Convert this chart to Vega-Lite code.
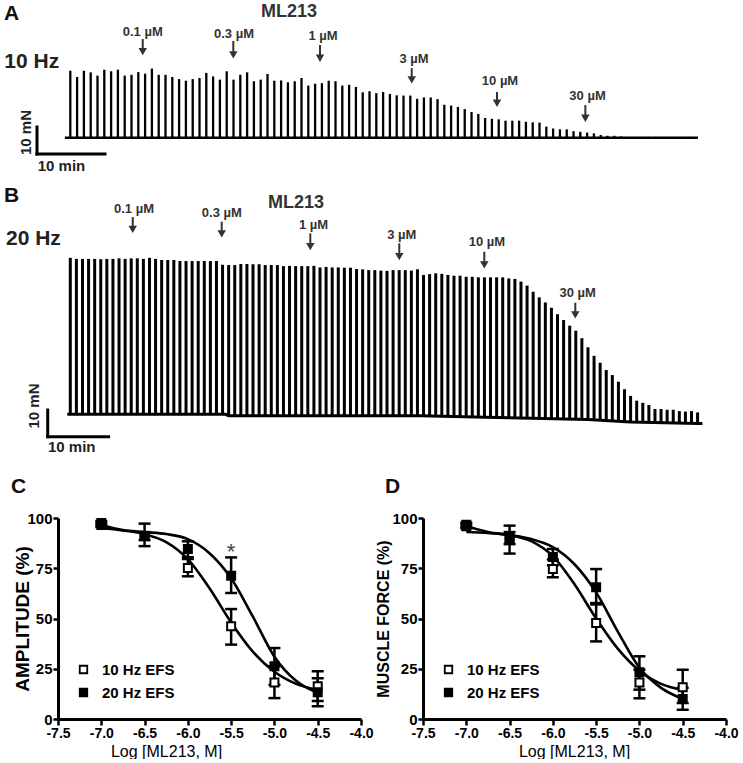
{
"$schema": "https://vega.github.io/schema/vega-lite/v6.json",
"padding": {"left": 3, "top": 0, "right": 0, "bottom": 0},
"background": "white",
"spacing": 0,
"config": {"view": {"stroke": null}, "font": "Liberation Sans", "axis": {"grid": false}},
"datasets": {
"spikesA": [
{"t":0,"v":24.8},{"t":1,"v":22.5},{"t":2,"v":24.8},{"t":3,"v":24.2},{"t":4,"v":23.0},{"t":5,"v":25.2},{"t":6,"v":24.6},{"t":7,"v":25.2},{"t":8,"v":23.0},{"t":9,"v":23.3},
{"t":10,"v":24.3},{"t":11,"v":23.7},{"t":12,"v":25.6},{"t":13,"v":23.3},{"t":14,"v":23.3},{"t":15,"v":22.5},{"t":16,"v":21.7},{"t":17,"v":21.1},{"t":18,"v":21.7},{"t":19,"v":22.1},
{"t":20,"v":24.0},{"t":21,"v":22.7},{"t":22,"v":21.5},{"t":23,"v":24.6},{"t":24,"v":21.5},{"t":25,"v":23.3},{"t":26,"v":24.2},{"t":27,"v":20.9},{"t":28,"v":21.5},{"t":29,"v":23.6},
{"t":30,"v":21.1},{"t":31,"v":21.2},{"t":32,"v":20.5},{"t":33,"v":20.9},{"t":34,"v":22.1},{"t":35,"v":19.3},{"t":36,"v":20.0},{"t":37,"v":20.2},{"t":38,"v":21.1},{"t":39,"v":20.9},
{"t":40,"v":19.3},{"t":41,"v":19.6},{"t":42,"v":18.8},{"t":43,"v":16.8},{"t":44,"v":17.2},{"t":45,"v":16.5},{"t":46,"v":16.9},{"t":47,"v":16.2},{"t":48,"v":15.7},{"t":49,"v":15.6},
{"t":50,"v":15.6},{"t":51,"v":14.4},{"t":52,"v":14.9},{"t":53,"v":14.9},{"t":54,"v":14.3},{"t":55,"v":12.2},{"t":56,"v":11.9},{"t":57,"v":11.4},{"t":58,"v":10.6},{"t":59,"v":9.5},
{"t":60,"v":8.8},{"t":61,"v":7.3},{"t":62,"v":7.0},{"t":63,"v":6.8},{"t":64,"v":6.3},{"t":65,"v":6.3},{"t":66,"v":6.3},{"t":67,"v":5.9},{"t":68,"v":5.7},{"t":69,"v":5.6},
{"t":70,"v":4.1},{"t":71,"v":3.4},{"t":72,"v":3.1},{"t":73,"v":3.1},{"t":74,"v":2.4},{"t":75,"v":2.2},{"t":76,"v":1.9},{"t":77,"v":1.6},{"t":78,"v":1.0},{"t":79,"v":0.7},
{"t":80,"v":0.7},{"t":81,"v":0.5},{"t":82,"v":0.3},{"t":83,"v":0.3},{"t":84,"v":0.3},{"t":85,"v":0.3},{"t":86,"v":0.3},{"t":87,"v":0.3},{"t":88,"v":0.3},{"t":89,"v":0.3},
{"t":90,"v":0.3},{"t":91,"v":0.3}
],
"baseA": [{"t":-0.8,"v":0},{"t":92.3,"v":0}],
"barsA": [{"t":-4.9,"v":3.96,"t2":-4.9,"v2":-6.04},{"t":-4.9,"v":-6.04,"t2":5.1,"v2":-6.04}],
"arrowsA": [
{"t":10.65,"v":36.56,"v2":31.89},{"t":23.97,"v":35.81,"v2":30.67},{"t":36.72,"v":34.33,"v2":29.41},
{"t":50.21,"v":25.81,"v2":21.41},{"t":62.75,"v":16.93,"v2":12.74},{"t":75.74,"v":12.11,"v2":7.19}
],
"textA": [
{"t":-9.75,"v":43.6,"label":"A","kind":"letter"},
{"t":-9.71,"v":25.7,"label":"10 Hz","kind":"hz"},
{"t":32.16,"v":44.6,"label":"ML213","kind":"title"},
{"t":10.65,"v":37.67,"label":"0.1 µM","kind":"dose"},
{"t":24.07,"v":36.81,"label":"0.3 µM","kind":"dose"},
{"t":37.16,"v":36.19,"label":"1 µM","kind":"dose"},
{"t":50.54,"v":27.56,"label":"3 µM","kind":"dose"},
{"t":63.19,"v":19.52,"label":"10 µM","kind":"dose"},
{"t":76.06,"v":13.96,"label":"30 µM","kind":"dose"},
{"t":-6.51,"v":1.93,"label":"10 mN","kind":"mn"},
{"t":-4.79,"v":-12.33,"label":"10 min","kind":"min"}
],
"spikesB": [
{"t":0,"v":58.6,"v2":0},{"t":1,"v":58.2,"v2":0},{"t":2,"v":58.2,"v2":0},{"t":3,"v":58.2,"v2":0},{"t":4,"v":58.2,"v2":0},{"t":5,"v":58.1,"v2":0},{"t":6,"v":58.2,"v2":0},{"t":7,"v":58.2,"v2":0},{"t":8,"v":58.4,"v2":0},{"t":9,"v":58.2,"v2":0},
{"t":10,"v":58.4,"v2":0},{"t":11,"v":58.4,"v2":0},{"t":12,"v":58.2,"v2":0},{"t":13,"v":58.6,"v2":0},{"t":14,"v":58.2,"v2":0},{"t":15,"v":57.8,"v2":0},{"t":16,"v":57.8,"v2":0},{"t":17,"v":57.8,"v2":0},{"t":18,"v":57.4,"v2":0},{"t":19,"v":57.4,"v2":0},
{"t":20,"v":57.4,"v2":0},{"t":21,"v":57.4,"v2":0},{"t":22,"v":57.4,"v2":0},{"t":23,"v":57.4,"v2":0},{"t":24,"v":57.4,"v2":0},{"t":25,"v":56.0,"v2":0},{"t":26,"v":55.9,"v2":-0.5},{"t":27,"v":55.9,"v2":-0.5},{"t":28,"v":56.3,"v2":-0.5},{"t":29,"v":56.3,"v2":-0.5},
{"t":30,"v":56.2,"v2":-0.5},{"t":31,"v":56.2,"v2":-0.5},{"t":32,"v":55.9,"v2":-0.5},{"t":33,"v":55.9,"v2":-0.5},{"t":34,"v":55.9,"v2":-0.5},{"t":35,"v":55.5,"v2":-0.5},{"t":36,"v":55.6,"v2":-0.5},{"t":37,"v":55.5,"v2":-0.5},{"t":38,"v":55.5,"v2":-0.5},{"t":39,"v":55.5,"v2":-0.5},
{"t":40,"v":55.6,"v2":-0.5},{"t":41,"v":55.0,"v2":-0.5},{"t":42,"v":55.2,"v2":-0.5},{"t":43,"v":55.0,"v2":-0.5},{"t":44,"v":55.0,"v2":-0.5},{"t":45,"v":54.9,"v2":-0.5},{"t":46,"v":54.9,"v2":-0.5},{"t":47,"v":54.4,"v2":-0.5},{"t":48,"v":54.3,"v2":-0.5},{"t":49,"v":54.0,"v2":-0.5},
{"t":50,"v":54.0,"v2":-0.5},{"t":51,"v":53.8,"v2":-0.5},{"t":52,"v":53.7,"v2":-0.5},{"t":53,"v":54.0,"v2":-0.5},{"t":54,"v":54.0,"v2":-0.5},{"t":55,"v":54.0,"v2":-0.5},{"t":56,"v":53.8,"v2":-0.5},{"t":57,"v":54.3,"v2":-0.5},{"t":58,"v":52.2,"v2":-0.65},{"t":59,"v":52.5,"v2":-0.7},
{"t":60,"v":52.8,"v2":-0.7},{"t":61,"v":52.6,"v2":-0.75},{"t":62,"v":52.2,"v2":-0.8},{"t":63,"v":51.9,"v2":-0.85},{"t":64,"v":51.9,"v2":-0.9},{"t":65,"v":51.5,"v2":-0.95},{"t":66,"v":51.5,"v2":-1.0},{"t":67,"v":51.3,"v2":-1.05},{"t":68,"v":51.3,"v2":-1.1},{"t":69,"v":51.3,"v2":-1.15},
{"t":70,"v":51.3,"v2":-1.2},{"t":71,"v":51.3,"v2":-1.25},{"t":72,"v":50.9,"v2":-1.3},{"t":73,"v":50.7,"v2":-1.35},{"t":74,"v":49.7,"v2":-1.4},{"t":75,"v":48.2,"v2":-1.45},{"t":76,"v":45.9,"v2":-1.5},{"t":77,"v":43.8,"v2":-1.55},{"t":78,"v":41.9,"v2":-1.6},{"t":79,"v":39.9,"v2":-1.65},
{"t":80,"v":37.5,"v2":-1.7},{"t":81,"v":35.3,"v2":-1.75},{"t":82,"v":33.2,"v2":-1.8},{"t":83,"v":31.3,"v2":-1.85},{"t":84,"v":28.5,"v2":-1.9},{"t":85,"v":25.1,"v2":-1.9},{"t":86,"v":21.9,"v2":-2.0},{"t":87,"v":19.3,"v2":-2.15},{"t":88,"v":16.6,"v2":-2.3},{"t":89,"v":14.7,"v2":-2.45},
{"t":90,"v":12.2,"v2":-2.6},{"t":91,"v":9.4,"v2":-2.75},{"t":92,"v":6.9,"v2":-2.9},{"t":93,"v":5.1,"v2":-2.95},{"t":94,"v":4.3,"v2":-3.0},{"t":95,"v":3.5,"v2":-3.05},{"t":96,"v":2.0,"v2":-3.1},{"t":97,"v":2.0,"v2":-3.15},{"t":98,"v":1.7,"v2":-3.2},{"t":99,"v":1.7,"v2":-3.25},
{"t":100,"v":1.2,"v2":-3.3},{"t":101,"v":1.0,"v2":-3.3},{"t":102,"v":1.2,"v2":-3.35},{"t":103,"v":0.7,"v2":-3.4}
],
"baseB": [{"t":-0.5,"v":0},{"t":25.5,"v":0},{"t":26,"v":-0.5},{"t":57.5,"v":-0.5},{"t":70,"v":-1.2},{"t":85,"v":-1.9},{"t":92,"v":-2.9},{"t":103,"v":-3.4},{"t":103.8,"v":-3.4}],
"barsB": [{"t":-3.71,"v":1.61,"t2":-3.71,"v2":-8.39},{"t":-3.71,"v":-8.39,"t2":6.29,"v2":-8.39}],
"arrowsB": [
{"t":10.25,"v":73.9,"v2":69.28},{"t":24.86,"v":72.13,"v2":67.56},{"t":39.41,"v":67.79,"v2":62.81},
{"t":54.02,"v":64.04,"v2":59.06},{"t":67.98,"v":60.9,"v2":55.95},{"t":82.92,"v":41.8,"v2":37.23}
],
"textB": [
{"t":-10.89,"v":79.51,"label":"B","kind":"letter"},
{"t":-10.56,"v":63.4,"label":"20 Hz","kind":"hz"},
{"t":37.06,"v":77.15,"label":"ML213","kind":"title"},
{"t":10.46,"v":75.28,"label":"0.1 µM","kind":"dose"},
{"t":24.88,"v":73.78,"label":"0.3 µM","kind":"dose"},
{"t":39.93,"v":69.29,"label":"1 µM","kind":"dose"},
{"t":54.43,"v":65.54,"label":"3 µM","kind":"dose"},
{"t":68.42,"v":63.03,"label":"10 µM","kind":"dose"},
{"t":83.32,"v":43.82,"label":"30 µM","kind":"dose"},
{"t":-5.96,"v":3.11,"label":"10 mN","kind":"mn"},
{"t":-3.66,"v":-14.0,"label":"10 min","kind":"min"}
],
"ptsC": [
{"series":"10 Hz EFS","dose":-7,"val":96.5,"lo":95.5,"hi":97.5},
{"series":"10 Hz EFS","dose":-6.5,"val":91,"lo":89,"hi":93},
{"series":"10 Hz EFS","dose":-6,"val":75.1,"lo":71,"hi":79.6},
{"series":"10 Hz EFS","dose":-5.5,"val":46.1,"lo":37.0,"hi":54.7},
{"series":"10 Hz EFS","dose":-5,"val":18.2,"lo":10.4,"hi":26.2},
{"series":"10 Hz EFS","dose":-4.5,"val":16.3,"lo":8.9,"hi":23.7},
{"series":"20 Hz EFS","dose":-7,"val":97.5,"lo":96.5,"hi":98.5},
{"series":"20 Hz EFS","dose":-6.5,"val":91,"lo":86,"hi":97.2},
{"series":"20 Hz EFS","dose":-6,"val":84.6,"lo":80.5,"hi":88.4},
{"series":"20 Hz EFS","dose":-5.5,"val":71.3,"lo":62.7,"hi":80.4},
{"series":"20 Hz EFS","dose":-5,"val":26.2,"lo":17,"hi":35.3},
{"series":"20 Hz EFS","dose":-4.5,"val":13.3,"lo":6.3,"hi":20.3}
],
"curveC": [
{"series":"10 Hz EFS","dose":-7,"val":95.0},{"series":"10 Hz EFS","dose":-6.75,"val":93.8},{"series":"10 Hz EFS","dose":-6.5,"val":92.0},{"series":"10 Hz EFS","dose":-6.25,"val":88.0},{"series":"10 Hz EFS","dose":-6,"val":79.5},{"series":"10 Hz EFS","dose":-5.75,"val":65.0},{"series":"10 Hz EFS","dose":-5.5,"val":48.0},{"series":"10 Hz EFS","dose":-5.25,"val":33.5},{"series":"10 Hz EFS","dose":-5,"val":23.5},{"series":"10 Hz EFS","dose":-4.75,"val":17.5},{"series":"10 Hz EFS","dose":-4.5,"val":14.5},
{"series":"20 Hz EFS","dose":-7,"val":96.5},{"series":"20 Hz EFS","dose":-6.75,"val":94.0},{"series":"20 Hz EFS","dose":-6.5,"val":93.0},{"series":"20 Hz EFS","dose":-6.25,"val":92.0},{"series":"20 Hz EFS","dose":-6,"val":89.5},{"series":"20 Hz EFS","dose":-5.75,"val":82.5},{"series":"20 Hz EFS","dose":-5.5,"val":70.0},{"series":"20 Hz EFS","dose":-5.25,"val":51.0},{"series":"20 Hz EFS","dose":-5,"val":31.0},{"series":"20 Hz EFS","dose":-4.75,"val":19.0},{"series":"20 Hz EFS","dose":-4.5,"val":13.0}
],
"labC": [
{"dose":-8.043,"val":112.6,"label":"C","kind":"letter"},
{"dose":-5.5,"val":79.5,"label":"*","kind":"star"}
],
"ptsD": [
{"series":"10 Hz EFS","dose":-7,"val":95.9,"lo":94.9,"hi":96.9},
{"series":"10 Hz EFS","dose":-6.5,"val":90,"lo":87,"hi":93},
{"series":"10 Hz EFS","dose":-6,"val":74.6,"lo":70.5,"hi":79.3},
{"series":"10 Hz EFS","dose":-5.5,"val":47.8,"lo":38.6,"hi":57.0},
{"series":"10 Hz EFS","dose":-5,"val":18.2,"lo":10.3,"hi":24.5},
{"series":"10 Hz EFS","dose":-4.5,"val":15.8,"lo":8.0,"hi":24.5},
{"series":"20 Hz EFS","dose":-7,"val":96.7,"lo":95.7,"hi":97.7},
{"series":"20 Hz EFS","dose":-6.5,"val":89.2,"lo":82.3,"hi":96.2},
{"series":"20 Hz EFS","dose":-6,"val":80.6,"lo":76.5,"hi":84.6},
{"series":"20 Hz EFS","dose":-5.5,"val":65.5,"lo":57.7,"hi":74.6},
{"series":"20 Hz EFS","dose":-5,"val":23.2,"lo":14.6,"hi":31.2},
{"series":"20 Hz EFS","dose":-4.5,"val":10.0,"lo":4.6,"hi":15.5}
],
"curveD": [
{"series":"10 Hz EFS","dose":-7,"val":93.0},{"series":"10 Hz EFS","dose":-6.75,"val":92.5},{"series":"10 Hz EFS","dose":-6.5,"val":91.5},{"series":"10 Hz EFS","dose":-6.25,"val":88.5},{"series":"10 Hz EFS","dose":-6,"val":81.0},{"series":"10 Hz EFS","dose":-5.75,"val":67.0},{"series":"10 Hz EFS","dose":-5.5,"val":50.0},{"series":"10 Hz EFS","dose":-5.25,"val":35.0},{"series":"10 Hz EFS","dose":-5,"val":24.0},{"series":"10 Hz EFS","dose":-4.75,"val":17.5},{"series":"10 Hz EFS","dose":-4.5,"val":14.5},
{"series":"20 Hz EFS","dose":-7,"val":96.0},{"series":"20 Hz EFS","dose":-6.75,"val":93.0},{"series":"20 Hz EFS","dose":-6.5,"val":91.5},{"series":"20 Hz EFS","dose":-6.25,"val":89.5},{"series":"20 Hz EFS","dose":-6,"val":85.5},{"series":"20 Hz EFS","dose":-5.75,"val":77.0},{"series":"20 Hz EFS","dose":-5.5,"val":63.0},{"series":"20 Hz EFS","dose":-5.25,"val":43.5},{"series":"20 Hz EFS","dose":-5,"val":25.5},{"series":"20 Hz EFS","dose":-4.75,"val":15.5},{"series":"20 Hz EFS","dose":-4.5,"val":10.0}
],
"labD": [
{"dose":-7.939,"val":112.6,"label":"D","kind":"letter"}
]
},
"vconcat": [
{
"width": 686, "height": 178,
"encoding": {
"x": {"field":"t","type":"quantitative","scale":{"domain":[-1.809,99.07],"nice":false,"zero":false},"axis":null},
"y": {"field":"v","type":"quantitative","scale":{"domain":[-14.93,51.0],"nice":false,"zero":false},"axis":null}
},
"layer": [
{"data":{"name":"baseA"},"mark":{"type":"line","color":"black","strokeWidth":2.6},"encoding":{}},
{"data":{"name":"spikesA"},"mark":{"type":"rule","color":"black","strokeWidth":2.3},"encoding":{"y2":{"datum":0}}},
{"data":{"name":"barsA"},"mark":{"type":"rule","color":"black","strokeWidth":3,"strokeCap":"square"},"encoding":{"x2":{"field":"t2"},"y2":{"field":"v2"}}},
{"data":{"name":"arrowsA"},"mark":{"type":"rule","color":"#333","strokeWidth":2},"encoding":{"y2":{"field":"v2"}}},
{"data":{"name":"arrowsA"},"mark":{"type":"point","shape":"triangle-down","size":72,"filled":true,"color":"#333","opacity":1},"encoding":{"y":{"field":"v2","type":"quantitative","scale":{"domain":[-14.93,51.0],"nice":false,"zero":false},"axis":null}}},
{"data":{"name":"textA"},"transform":[{"filter":"datum.kind==='letter'"}],"mark":{"type":"text","align":"left","baseline":"alphabetic","fontSize":21,"fontWeight":"bold","color":"#111"},"encoding":{"text":{"field":"label"}}},
{"data":{"name":"textA"},"transform":[{"filter":"datum.kind==='hz'"}],"mark":{"type":"text","align":"left","baseline":"alphabetic","fontSize":21,"fontWeight":"bold","color":"#222"},"encoding":{"text":{"field":"label"}}},
{"data":{"name":"textA"},"transform":[{"filter":"datum.kind==='title'"}],"mark":{"type":"text","align":"center","baseline":"alphabetic","fontSize":18,"fontWeight":"bold","color":"#333"},"encoding":{"text":{"field":"label"}}},
{"data":{"name":"textA"},"transform":[{"filter":"datum.kind==='dose'"}],"mark":{"type":"text","align":"center","baseline":"alphabetic","fontSize":13,"fontWeight":"bold","color":"#333"},"encoding":{"text":{"field":"label"}}},
{"data":{"name":"textA"},"transform":[{"filter":"datum.kind==='mn'"}],"mark":{"type":"text","align":"center","baseline":"middle","angle":270,"fontSize":15,"fontWeight":"bold","color":"#222"},"encoding":{"text":{"field":"label"}}},
{"data":{"name":"textA"},"transform":[{"filter":"datum.kind==='min'"}],"mark":{"type":"text","align":"left","baseline":"alphabetic","fontSize":15,"fontWeight":"bold","color":"#222"},"encoding":{"text":{"field":"label"}}}
]
},
{
"width": 686, "height": 297,
"encoding": {
"x": {"field":"t","type":"quantitative","scale":{"domain":[-2.02,110.62],"nice":false,"zero":false},"axis":null},
"y": {"field":"v","type":"quantitative","scale":{"domain":[-22.73,88.5],"nice":false,"zero":false},"axis":null}
},
"layer": [
{"data":{"name":"baseB"},"mark":{"type":"line","color":"black","strokeWidth":3},"encoding":{}},
{"data":{"name":"spikesB"},"mark":{"type":"rule","color":"black","strokeWidth":3},"encoding":{"y2":{"field":"v2"}}},
{"data":{"name":"barsB"},"mark":{"type":"rule","color":"black","strokeWidth":3,"strokeCap":"square"},"encoding":{"x2":{"field":"t2"},"y2":{"field":"v2"}}},
{"data":{"name":"arrowsB"},"mark":{"type":"rule","color":"#333","strokeWidth":2},"encoding":{"y2":{"field":"v2"}}},
{"data":{"name":"arrowsB"},"mark":{"type":"point","shape":"triangle-down","size":72,"filled":true,"color":"#333","opacity":1},"encoding":{"y":{"field":"v2","type":"quantitative","scale":{"domain":[-22.73,88.5],"nice":false,"zero":false},"axis":null}}},
{"data":{"name":"textB"},"transform":[{"filter":"datum.kind==='letter'"}],"mark":{"type":"text","align":"left","baseline":"alphabetic","fontSize":21,"fontWeight":"bold","color":"#111"},"encoding":{"text":{"field":"label"}}},
{"data":{"name":"textB"},"transform":[{"filter":"datum.kind==='hz'"}],"mark":{"type":"text","align":"left","baseline":"alphabetic","fontSize":21,"fontWeight":"bold","color":"#222"},"encoding":{"text":{"field":"label"}}},
{"data":{"name":"textB"},"transform":[{"filter":"datum.kind==='title'"}],"mark":{"type":"text","align":"center","baseline":"alphabetic","fontSize":18,"fontWeight":"bold","color":"#333"},"encoding":{"text":{"field":"label"}}},
{"data":{"name":"textB"},"transform":[{"filter":"datum.kind==='dose'"}],"mark":{"type":"text","align":"center","baseline":"alphabetic","fontSize":13,"fontWeight":"bold","color":"#333"},"encoding":{"text":{"field":"label"}}},
{"data":{"name":"textB"},"transform":[{"filter":"datum.kind==='mn'"}],"mark":{"type":"text","align":"center","baseline":"middle","angle":270,"fontSize":15,"fontWeight":"bold","color":"#222"},"encoding":{"text":{"field":"label"}}},
{"data":{"name":"textB"},"transform":[{"filter":"datum.kind==='min'"}],"mark":{"type":"text","align":"left","baseline":"alphabetic","fontSize":15,"fontWeight":"bold","color":"#222"},"encoding":{"text":{"field":"label"}}}
]
},
{
"spacing": 1,
"resolve": {"scale": {"fill": "independent"}, "legend": {"fill": "independent"}},
"hconcat": [
{
"width": 303, "height": 201,
"encoding": {
"x": {"field":"dose","type":"quantitative","scale":{"domain":[-7.5,-4.0],"nice":false,"zero":false},
 "axis":{"values":[-7.5,-7,-6.5,-6,-5.5,-5,-4.5,-4],"labelExpr":"datum.value % 1 === 0 ? datum.value + '.0' : '' + datum.value","labelFlush":false,"title":"Log [ML213, M]","titleX":108,"titleY":37,"titleBaseline":"alphabetic","titleAlign":"center","titleFontSize":16,"titleFontWeight":"normal","titleColor":"black","labelFontSize":14,"labelFontWeight":"bold","labelColor":"black","labelPadding":1,"tickSize":6,"tickWidth":2.5,"tickColor":"black","domainWidth":3,"domainColor":"black","grid":false}},
"y": {"field":"val","type":"quantitative","scale":{"domain":[0,100],"nice":false,"zero":false},
 "axis":{"values":[0,25,50,75,100],"title":"AMPLITUDE (%)","titleFontSize":19,"titleFontWeight":"bold","titleColor":"black","titlePadding":-6,"labelFontSize":15,"labelFontWeight":"bold","labelColor":"black","labelPadding":1,"tickSize":5,"tickWidth":2.5,"tickColor":"black","domainWidth":3,"domainColor":"black","grid":false}}
},
"layer": [
{"data":{"name":"curveC"},"mark":{"type":"line","interpolate":"monotone","color":"black","strokeWidth":2.6},"encoding":{"detail":{"field":"series","type":"nominal"}}},
{"data":{"name":"ptsC"},"mark":{"type":"rule","color":"black","strokeWidth":2.5},"encoding":{"y":{"field":"lo","type":"quantitative","scale":{"domain":[0,100],"nice":false,"zero":false},
 "axis":{"values":[0,25,50,75,100],"title":"AMPLITUDE (%)","titleFontSize":19,"titleFontWeight":"bold","titleColor":"black","titlePadding":-6,"labelFontSize":15,"labelFontWeight":"bold","labelColor":"black","labelPadding":1,"tickSize":5,"tickWidth":2.5,"tickColor":"black","domainWidth":3,"domainColor":"black","grid":false}},"y2":{"field":"hi"}}},
{"data":{"name":"ptsC"},"mark":{"type":"tick","orient":"horizontal","size":12,"thickness":2.5,"color":"black","opacity":1},"encoding":{"y":{"field":"lo","type":"quantitative","scale":{"domain":[0,100],"nice":false,"zero":false},
 "axis":{"values":[0,25,50,75,100],"title":"AMPLITUDE (%)","titleFontSize":19,"titleFontWeight":"bold","titleColor":"black","titlePadding":-6,"labelFontSize":15,"labelFontWeight":"bold","labelColor":"black","labelPadding":1,"tickSize":5,"tickWidth":2.5,"tickColor":"black","domainWidth":3,"domainColor":"black","grid":false}}}},
{"data":{"name":"ptsC"},"mark":{"type":"tick","orient":"horizontal","size":12,"thickness":2.5,"color":"black","opacity":1},"encoding":{"y":{"field":"hi","type":"quantitative","scale":{"domain":[0,100],"nice":false,"zero":false},
 "axis":{"values":[0,25,50,75,100],"title":"AMPLITUDE (%)","titleFontSize":19,"titleFontWeight":"bold","titleColor":"black","titlePadding":-6,"labelFontSize":15,"labelFontWeight":"bold","labelColor":"black","labelPadding":1,"tickSize":5,"tickWidth":2.5,"tickColor":"black","domainWidth":3,"domainColor":"black","grid":false}}}},
{"data":{"name":"ptsC"},"mark":{"type":"point","shape":"square","size":64,"filled":true,"stroke":"black","strokeWidth":2,"opacity":1},
 "encoding":{"fill":{"field":"series","type":"nominal","scale":{"domain":["10 Hz EFS","20 Hz EFS"],"range":["white","black"]},
  "legend":{"orient":"none","legendX":18,"legendY":144,"title":null,"symbolType":"square","symbolSize":56,"symbolStrokeColor":"black","symbolStrokeWidth":1.8,"labelFontSize":15,"labelFontWeight":"bold","labelColor":"black","rowPadding":7,"labelOffset":11,"padding":0}}}},
{"data":{"name":"labC"},"transform":[{"filter":"datum.kind==='letter'"}],"mark":{"type":"text","align":"left","baseline":"alphabetic","fontSize":21,"fontWeight":"bold","color":"#111"},"encoding":{"text":{"field":"label"}}},
{"data":{"name":"labC"},"transform":[{"filter":"datum.kind==='star'"}],"mark":{"type":"text","align":"center","baseline":"alphabetic","fontSize":22,"color":"#444"},"encoding":{"text":{"field":"label"}}}
]
},
{
"width": 303, "height": 201,
"encoding": {
"x": {"field":"dose","type":"quantitative","scale":{"domain":[-7.5,-4.0],"nice":false,"zero":false},
 "axis":{"values":[-7.5,-7,-6.5,-6,-5.5,-5,-4.5,-4],"labelExpr":"datum.value % 1 === 0 ? datum.value + '.0' : '' + datum.value","labelFlush":false,"title":"Log [ML213, M]","titleX":151,"titleY":37,"titleBaseline":"alphabetic","titleAlign":"center","titleFontSize":16,"titleFontWeight":"normal","titleColor":"black","labelFontSize":14,"labelFontWeight":"bold","labelColor":"black","labelPadding":1,"tickSize":6,"tickWidth":2.5,"tickColor":"black","domainWidth":3,"domainColor":"black","grid":false}},
"y": {"field":"val","type":"quantitative","scale":{"domain":[0,100],"nice":false,"zero":false},
 "axis":{"values":[0,25,50,75,100],"title":"MUSCLE FORCE (%)","titleFontSize":16,"titleFontWeight":"bold","titleColor":"black","titlePadding":0,"labelFontSize":15,"labelFontWeight":"bold","labelColor":"black","labelPadding":1,"tickSize":5,"tickWidth":2.5,"tickColor":"black","domainWidth":3,"domainColor":"black","grid":false}}
},
"layer": [
{"data":{"name":"curveD"},"mark":{"type":"line","interpolate":"monotone","color":"black","strokeWidth":2.6},"encoding":{"detail":{"field":"series","type":"nominal"}}},
{"data":{"name":"ptsD"},"mark":{"type":"rule","color":"black","strokeWidth":2.5},"encoding":{"y":{"field":"lo","type":"quantitative","scale":{"domain":[0,100],"nice":false,"zero":false},
 "axis":{"values":[0,25,50,75,100],"title":"MUSCLE FORCE (%)","titleFontSize":16,"titleFontWeight":"bold","titleColor":"black","titlePadding":0,"labelFontSize":15,"labelFontWeight":"bold","labelColor":"black","labelPadding":1,"tickSize":5,"tickWidth":2.5,"tickColor":"black","domainWidth":3,"domainColor":"black","grid":false}},"y2":{"field":"hi"}}},
{"data":{"name":"ptsD"},"mark":{"type":"tick","orient":"horizontal","size":12,"thickness":2.5,"color":"black","opacity":1},"encoding":{"y":{"field":"lo","type":"quantitative","scale":{"domain":[0,100],"nice":false,"zero":false},
 "axis":{"values":[0,25,50,75,100],"title":"MUSCLE FORCE (%)","titleFontSize":16,"titleFontWeight":"bold","titleColor":"black","titlePadding":0,"labelFontSize":15,"labelFontWeight":"bold","labelColor":"black","labelPadding":1,"tickSize":5,"tickWidth":2.5,"tickColor":"black","domainWidth":3,"domainColor":"black","grid":false}}}},
{"data":{"name":"ptsD"},"mark":{"type":"tick","orient":"horizontal","size":12,"thickness":2.5,"color":"black","opacity":1},"encoding":{"y":{"field":"hi","type":"quantitative","scale":{"domain":[0,100],"nice":false,"zero":false},
 "axis":{"values":[0,25,50,75,100],"title":"MUSCLE FORCE (%)","titleFontSize":16,"titleFontWeight":"bold","titleColor":"black","titlePadding":0,"labelFontSize":15,"labelFontWeight":"bold","labelColor":"black","labelPadding":1,"tickSize":5,"tickWidth":2.5,"tickColor":"black","domainWidth":3,"domainColor":"black","grid":false}}}},
{"data":{"name":"ptsD"},"mark":{"type":"point","shape":"square","size":64,"filled":true,"stroke":"black","strokeWidth":2,"opacity":1},
 "encoding":{"fill":{"field":"series","type":"nominal","scale":{"domain":["10 Hz EFS","20 Hz EFS"],"range":["white","black"]},
  "legend":{"orient":"none","legendX":18,"legendY":144,"title":null,"symbolType":"square","symbolSize":56,"symbolStrokeColor":"black","symbolStrokeWidth":1.8,"labelFontSize":15,"labelFontWeight":"bold","labelColor":"black","rowPadding":7,"labelOffset":11,"padding":0}}}},
{"data":{"name":"labD"},"transform":[{"filter":"datum.kind==='letter'"}],"mark":{"type":"text","align":"left","baseline":"alphabetic","fontSize":21,"fontWeight":"bold","color":"#111"},"encoding":{"text":{"field":"label"}}}
]
}
]
}
]
}
